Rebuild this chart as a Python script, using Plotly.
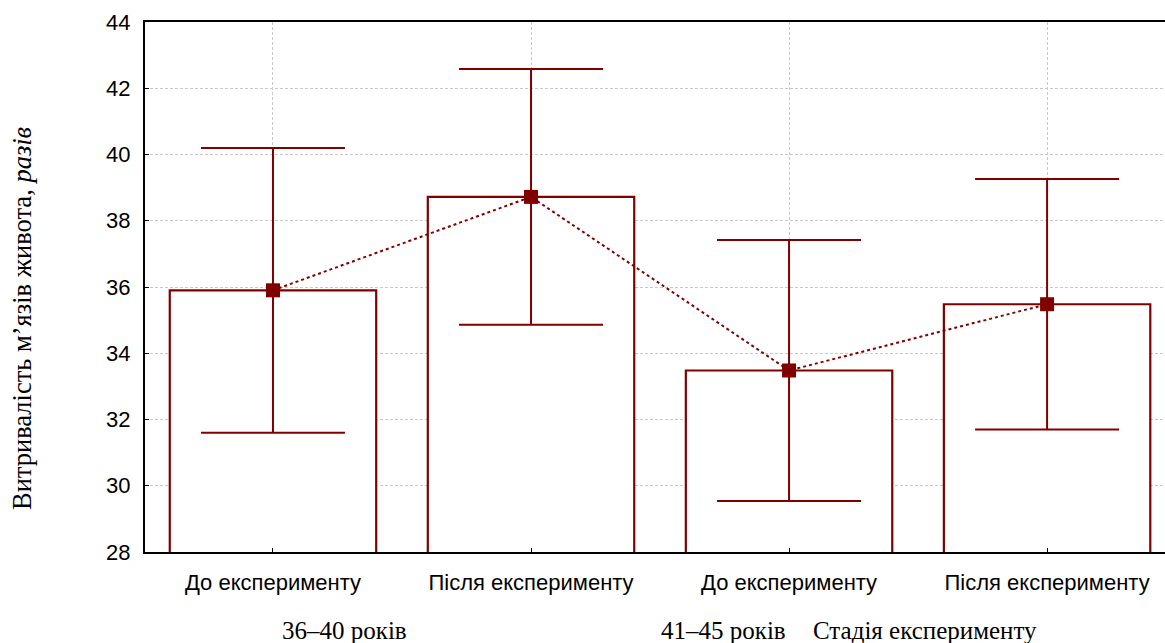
import plotly.graph_objects as go

# Data
categories = ["До експерименту", "Після експерименту", "До експерименту", "Після експерименту"]
positions = [0, 1, 2, 3]
means = [35.9, 38.72, 33.48, 35.48]
errors = [4.3, 3.86, 3.94, 3.78]
y_ticks = [28, 30, 32, 34, 36, 38, 40, 42, 44]

DARK = "#800000"

fig = go.Figure()

fig.add_trace(go.Bar(
    x=positions, y=means, width=0.8,
    marker=dict(color="white", line=dict(color=DARK, width=2.2)),
    showlegend=False, hoverinfo="skip",
))

fig.add_trace(go.Scatter(
    x=positions, y=means, mode="lines+markers",
    line=dict(color=DARK, width=2, dash="dot"),
    marker=dict(symbol="square", size=14, color=DARK),
    error_y=dict(type="data", array=errors, visible=True,
                 color=DARK, thickness=2, width=72),
    showlegend=False,
))

fig.update_layout(
    width=1165, height=643, autosize=False,
    margin=dict(l=145, r=0, t=22, b=91),
    plot_bgcolor="white", paper_bgcolor="white",
    font=dict(family="Liberation Sans, Arial, sans-serif", color="black"),
    bargap=0.2,
)

fig.update_xaxes(
    range=[-0.496, 3.457],
    tickmode="array", tickvals=positions, ticktext=categories,
    tickfont=dict(size=22, family="Liberation Sans, Arial, sans-serif", color="black"),
    showgrid=True, gridcolor="#c8c8c8", griddash="3px,2px", gridwidth=1,
    showline=True, linecolor="black", linewidth=2, mirror=True,
    ticks="inside", ticklen=4, tickcolor="black",
    ticklabelstandoff=10,
    zeroline=False,
)

fig.update_yaxes(
    range=[28, 44],
    tickmode="array", tickvals=y_ticks,
    tickfont=dict(size=22, family="Liberation Sans, Arial, sans-serif", color="black"),
    showgrid=True, gridcolor="#c8c8c8", griddash="3px,2px", gridwidth=1,
    showline=True, linecolor="black", linewidth=2, mirror=False,
    ticks="inside", ticklen=4, tickcolor="black",
    ticklabelstandoff=8,
    zeroline=False,
)

serif = dict(family="Liberation Serif, Times New Roman, serif", size=25, color="black")
serif_title = dict(family="Liberation Serif, Times New Roman, serif", size=26.5, color="black")

def px_x(p):
    return (p - 145) / 1020

def px_y(p):
    return (552 - p) / 530

fig.add_annotation(
    text="Витривалість м’язів живота, <i>разів</i>",
    xref="paper", yref="paper", x=px_x(22), y=px_y(318),
    textangle=-90, showarrow=False, font=serif_title, xanchor="center", yanchor="middle",
)

fig.add_annotation(
    text="36–40 років", xref="paper", yref="paper",
    x=px_x(280), y=px_y(630),
    showarrow=False, font=serif, xanchor="left", yanchor="middle",
)
fig.add_annotation(
    text="41–45 років", xref="paper", yref="paper",
    x=px_x(659), y=px_y(630),
    showarrow=False, font=serif, xanchor="left", yanchor="middle",
)
fig.add_annotation(
    text="Стадія експерименту", xref="paper", yref="paper",
    x=px_x(811), y=px_y(630),
    showarrow=False, font=serif, xanchor="left", yanchor="middle",
)

fig.write_html(
    "out.html",
    config={"displayModeBar": False},
    post_script="document.body.style.margin='0';document.body.style.overflow='hidden';",
)
